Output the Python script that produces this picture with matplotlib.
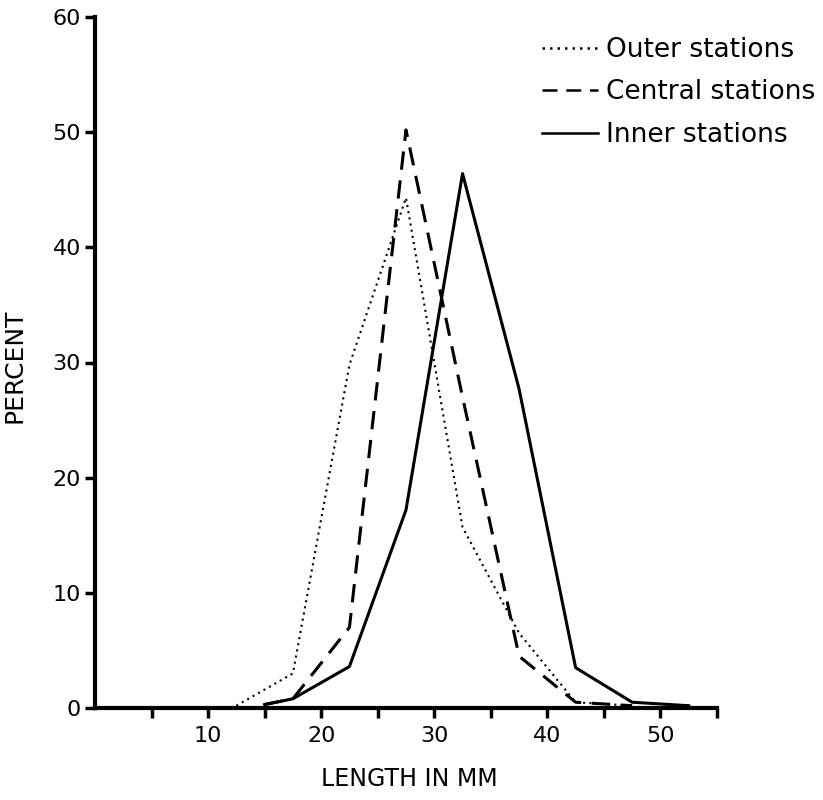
import numpy as np
import matplotlib
matplotlib.use('Agg')
import matplotlib.pyplot as plt

# values (length class midpoints in mm, percent)
outer_x = [12.5, 17.5, 22.5, 27.5, 32.5, 37.5, 42.5, 47.5]
outer_y = [0.2, 3.0, 29.8, 44.3, 15.7, 6.5, 0.5, 0.2]

central_x = [15.0, 17.5, 22.5, 27.5, 32.5, 37.5, 42.5, 47.5]
central_y = [0.3, 0.8, 7.0, 50.2, 27.0, 4.5, 0.5, 0.2]

inner_x = [15.0, 17.5, 22.5, 27.5, 32.5, 37.5, 42.5, 47.5, 52.5]
inner_y = [0.3, 0.8, 3.6, 17.2, 46.4, 27.7, 3.5, 0.5, 0.2]

x_major = [10, 20, 30, 40, 50]
x_minor = [5, 15, 25, 35, 45, 55]
y_ticks = [0, 10, 20, 30, 40, 50, 60]

plt.rcParams['font.family'] = ['DejaVu Sans']

fig = plt.figure(figsize=(8.23, 8.0), dpi=100)
ax = fig.add_axes([0.1154, 0.115, 0.7558, 0.86375])

ax.plot(outer_x, outer_y, color='black', lw=1.5, linestyle=(0, (1, 2.0)),
        label='Outer stations')
ax.plot(central_x, central_y, color='black', lw=2.2, linestyle=(0, (6, 3.5)),
        label='Central stations')
ax.plot(inner_x, inner_y, color='black', lw=2.2, linestyle='-',
        label='Inner stations')

ax.set_xlim(0, 55)
ax.set_ylim(0, 60)

for s in ['top', 'right']:
    ax.spines[s].set_visible(False)
for s in ['left', 'bottom']:
    ax.spines[s].set_linewidth(3)

ax.set_xticks(x_major)
ax.set_xticks(x_minor, minor=True)
ax.set_yticks(y_ticks)
ax.tick_params(axis='x', which='both', direction='out', length=7, width=2.5,
               pad=6, labelsize=16)
ax.tick_params(axis='y', direction='out', length=7, width=2.5, pad=3,
               labelsize=16)

ax.set_xlabel('LENGTH IN MM', fontsize=17)
ax.xaxis.set_label_coords(0.505, -0.085)
ax.set_ylabel('PERCENT', fontsize=18)
ax.yaxis.set_label_coords(-0.11, 0.496)

leg = ax.legend(loc='upper left', bbox_to_anchor=(0.719, 0.971), frameon=False,
                fontsize=19, handlelength=2.1, handletextpad=0.3,
                labelspacing=0.62, borderpad=0, borderaxespad=0)
for h in leg.get_lines():
    h.set_linewidth(1.8)

fig.savefig('out.png', dpi=100)
